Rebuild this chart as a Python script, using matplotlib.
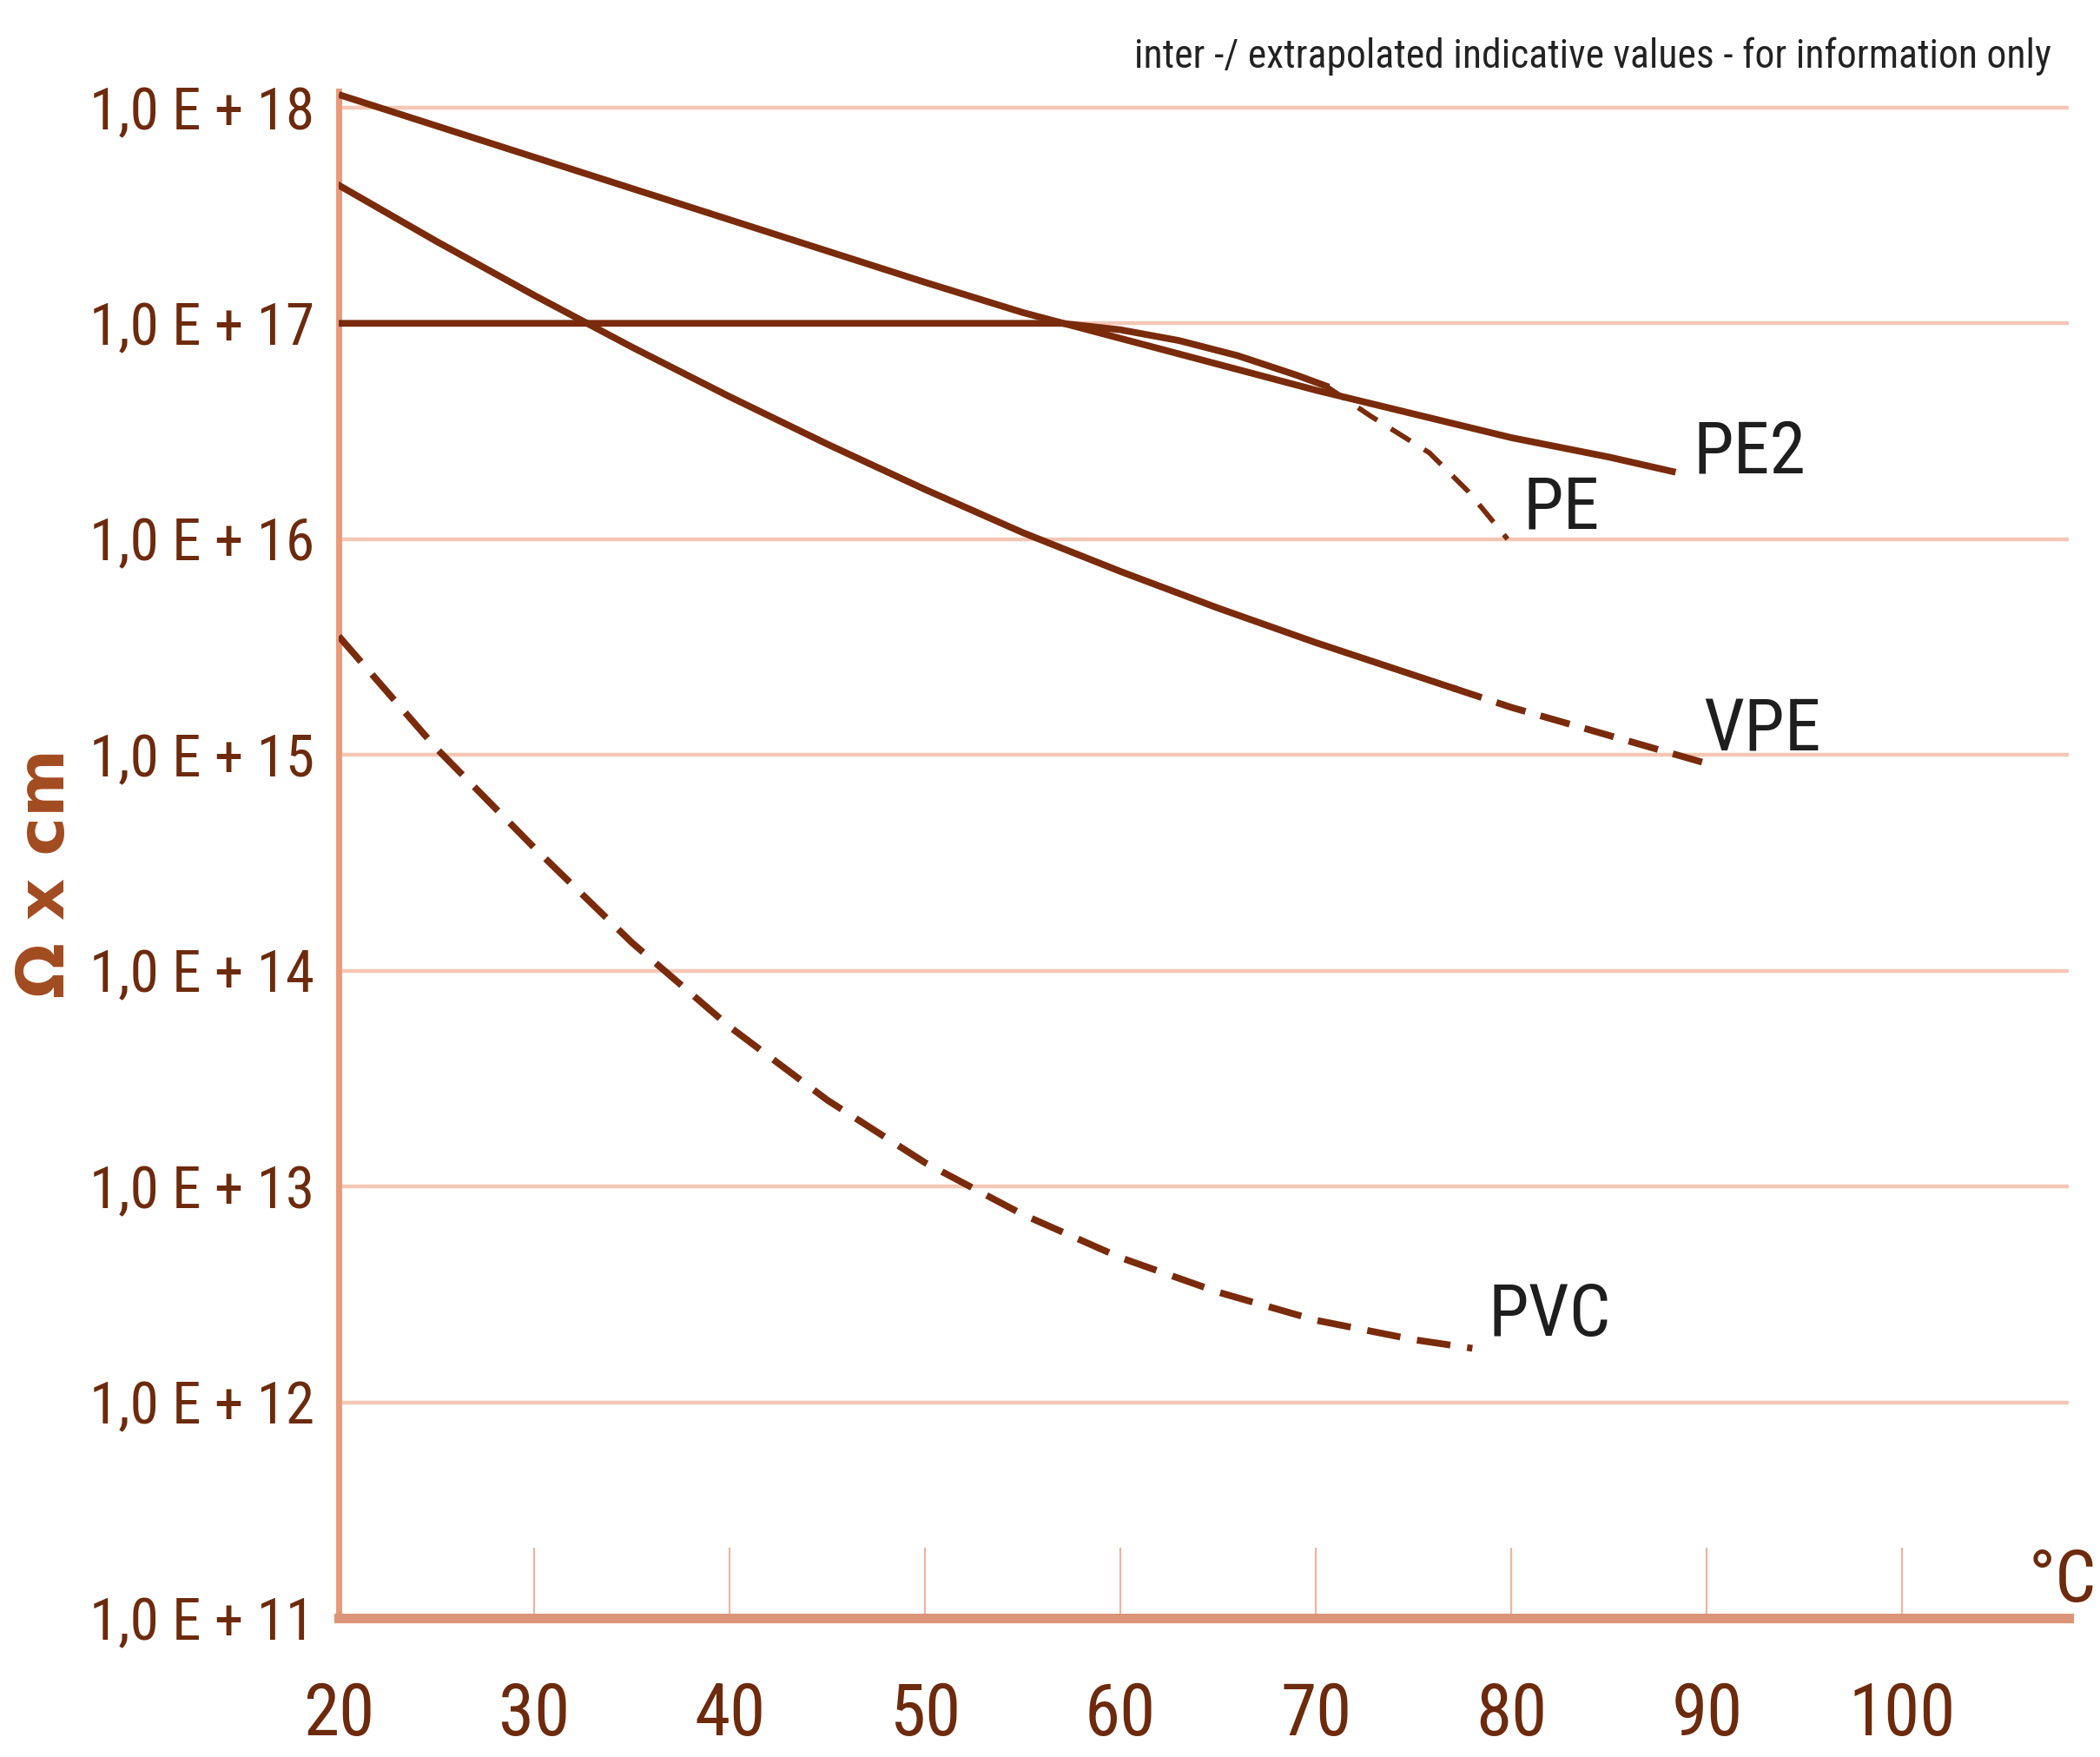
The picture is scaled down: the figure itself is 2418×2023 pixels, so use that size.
import numpy as np
import matplotlib.pyplot as plt
from matplotlib import font_manager
from matplotlib.textpath import TextPath
from matplotlib.font_manager import FontProperties

# Volume resistivity vs temperature.
# y values are log10(Ohm x cm)
temps_pe2 = [20, 30, 40, 50, 55, 60, 65, 70, 75, 80, 85, 88.4]
log_pe2 = [18.06, 17.77, 17.48, 17.19, 17.05, 16.93, 16.81, 16.69, 16.58, 16.47, 16.38, 16.31]

temps_pe = [20, 30, 40, 50, 57, 60, 63, 66, 69, 70.5]
log_pe = [17.0, 17.0, 17.0, 17.0, 17.0, 16.97, 16.92, 16.85, 16.76, 16.71]
temps_pe_ext = [70.5, 72.8, 75.8, 77.8, 79.8]
log_pe_ext = [16.71, 16.57, 16.40, 16.22, 16.0]

temps_vpe = [20, 25, 30, 35, 40, 45, 50, 55, 60, 65, 70, 75, 77]
log_vpe = [17.64, 17.38, 17.13, 16.89, 16.66, 16.44, 16.23, 16.03, 15.85, 15.68, 15.52, 15.37, 15.31]
temps_vpe_ext = [77, 80, 85, 90]
log_vpe_ext = [15.31, 15.22, 15.09, 14.96]

temps_pvc = [20, 25, 30, 35, 40, 45, 50, 55, 60, 65, 70, 75, 78]
log_pvc = [15.55, 15.03, 14.57, 14.13, 13.74, 13.40, 13.11, 12.87, 12.67, 12.51, 12.38, 12.29, 12.25]

x_ticks = [20, 30, 40, 50, 60, 70, 80, 90, 100]
y_exponents = [11, 12, 13, 14, 15, 16, 17, 18]
y_ticklabels = ['1,0 E + %d' % e for e in y_exponents]

# name, x, log y
curve_labels = [('PE2', 89.3, 16.40), ('PE', 80.6, 16.14), ('VPE', 89.8, 15.11), ('PVC', 78.8, 12.40)]

note = 'inter -/ extrapolated indicative values - for information only'

line_col = '#7a2b0b'
tick_col = '#6d2a0c'
axis_col = '#e99a7a'
grid_col = '#f4c7b4'

DPI = 200

# pick the narrowest family that is installed
installed = set(f.name for f in font_manager.fontManager.ttflist)
narrow_fam = 'DejaVu Sans'
for cand in ['Roboto Condensed', 'Liberation Sans Narrow', 'DejaVu Sans Condensed',
             'Open Sans Condensed', 'Noto Sans Condensed', 'Roboto', 'Liberation Sans']:
    if cand in installed:
        narrow_fam = cand
        break
narrow = [narrow_fam, 'DejaVu Sans']


def fit_size(s, width_px, max_pt):
    # font size (pt) so that text s is about width_px wide
    w = TextPath((0, 0), s, size=100, prop=FontProperties(family=narrow_fam)).get_extents().width
    pt = 100 * (width_px / DPI * 72) / w
    return min(pt, max_pt)


ytick_size = fit_size('1,0 E + 18', 250, 31)
xtick_size = fit_size('100', 112, 34)
curve_size = fit_size('PE2', 120, 32)
note_size = fit_size(note, 1050, 20)

fig = plt.figure(figsize=(2418 / DPI, 2023 / DPI), dpi=DPI)
ax = fig.add_axes([0.1613, 0.0791, 0.985 - 0.1613, 0.948 - 0.0791])

ax.set_yscale('log')
ax.set_xlim(20, 108.5)
ax.set_ylim(1e11, 10 ** 18.075)

# horizontal grid at each decade
for e in y_exponents[1:]:
    ax.axhline(10.0 ** e, color=grid_col, lw=1.6, zorder=1)

lw = 2.8
ax.plot(temps_pe2, 10 ** np.array(log_pe2), color=line_col, lw=lw, solid_capstyle='butt', zorder=3)
ax.plot(temps_pe, 10 ** np.array(log_pe), color=line_col, lw=lw, zorder=3)
ax.plot(temps_pe_ext, 10 ** np.array(log_pe_ext), color=line_col, lw=lw * 0.75, dashes=(4.5, 3.2), zorder=3)
ax.plot(temps_vpe, 10 ** np.array(log_vpe), color=line_col, lw=lw, zorder=3)
ax.plot(temps_vpe_ext, 10 ** np.array(log_vpe_ext), color=line_col, lw=lw, dashes=(4.5, 2.3), zorder=3)
ax.plot(temps_pvc, 10 ** np.array(log_pvc), color=line_col, lw=lw, dashes=(5, 2.5), zorder=3)

for name, tx, ty in curve_labels:
    ax.text(tx, 10 ** ty, name, color='#1e1e1e', fontsize=curve_size, family=narrow,
            ha='left', va='center', zorder=4)

# axes look
for s in ['top', 'right']:
    ax.spines[s].set_visible(False)
ax.spines['left'].set_color(axis_col)
ax.spines['left'].set_linewidth(2.5)
ax.spines['bottom'].set_color('#dc9478')
ax.spines['bottom'].set_linewidth(4)

ax.set_xticks(x_ticks)
ax.set_xticklabels([str(t) for t in x_ticks])
ax.tick_params(axis='x', direction='in', length=29, width=0.8, color='#eeb59c',
               pad=26, labelsize=xtick_size, labelcolor=tick_col)
ax.set_yticks([10.0 ** e for e in y_exponents])
ax.set_yticklabels(y_ticklabels)
ax.yaxis.set_minor_locator(plt.NullLocator())
ax.tick_params(axis='y', length=0, pad=10, labelsize=ytick_size, labelcolor=tick_col)
for lab in ax.get_xticklabels() + ax.get_yticklabels():
    lab.set_family(narrow)

fig.text(0.022, 0.503, 'Ω x cm', rotation=90, color='#a24b20', fontsize=27,
         fontweight='bold', ha='center', va='center')
fig.text(0.982, 0.100, '°C', color=tick_col, fontsize=xtick_size, family=narrow,
         ha='center', va='center')
fig.text(0.977, 0.968, note, color='#222222', fontsize=note_size, family=narrow,
         ha='right', va='center')

fig.savefig('out.png', dpi=DPI)
